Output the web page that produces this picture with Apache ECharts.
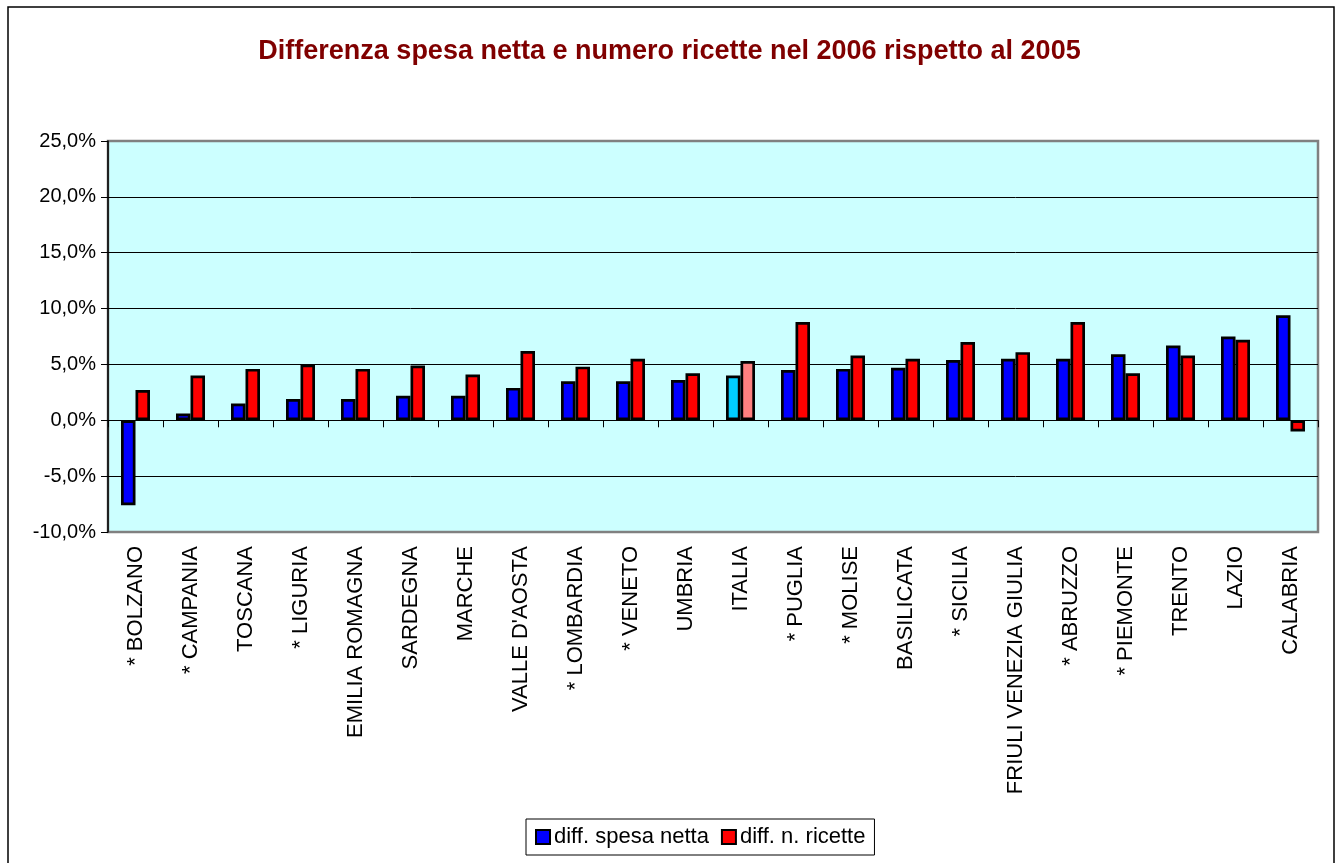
<!DOCTYPE html>
<html>
<head>
<meta charset="utf-8">
<script src="https://cdn.jsdelivr.net/npm/echarts@6/dist/echarts.min.js"></script>
<style>
html,body{margin:0;padding:0;background:#fff;}
#c{width:1339px;height:863px;}
</style>
</head>
<body>
<div id="c"></div>
<script>
const categories = ['* BOLZANO','* CAMPANIA','TOSCANA','* LIGURIA','EMILIA ROMAGNA','SARDEGNA','MARCHE',"VALLE D'AOSTA",'* LOMBARDIA','* VENETO','UMBRIA','ITALIA','* PUGLIA','* MOLISE','BASILICATA','* SICILIA','FRIULI VENEZIA GIULIA','* ABRUZZO','* PIEMONTE','TRENTO','LAZIO','CALABRIA'];
const spesaNetta = [-7.6,0.6,1.5,1.9,1.9,2.2,2.2,2.9,3.5,3.5,3.6,4.0,4.5,4.6,4.7,5.4,5.5,5.5,5.9,6.7,7.5,9.4];
const nRicette = [2.7,4.0,4.6,5.0,4.6,4.9,4.1,6.2,4.8,5.5,4.2,5.3,8.8,5.8,5.5,7.0,6.1,8.8,4.2,5.8,7.2,-1.0];
const seriesNames = ['diff. spesa netta','diff. n. ricette'];
const highlightCategory = 'ITALIA';

const FONT = '"Liberation Sans", Arial, sans-serif';
function mk(values, hiColor){
  return values.map((v,i)=> categories[i]===highlightCategory
    ? {value:v, itemStyle:{color:hiColor}} : v);
}
const chart = echarts.init(document.getElementById('c'));
chart.setOption({
  animation:false,
  backgroundColor:'#fff',
  textStyle:{fontFamily:FONT},
  title:{
    text:'Differenza spesa netta e numero ricette nel 2006 rispetto al 2005',
    left:'center', top:33,
    textStyle:{color:'#800000', fontSize:27, fontWeight:'bold', fontFamily:FONT}
  },
  legend:{
    left:526, top:819,
    icon:'rect', itemWidth:14, itemHeight:14, itemGap:12,
    borderColor:'#000', borderWidth:1, padding:[7,9],
    itemStyle:{borderColor:'#000', borderWidth:2},
    textStyle:{color:'#000', fontSize:22, fontFamily:FONT, padding:[0,0,0,-1]},
    data:seriesNames
  },
  graphic:[{
    type:'rect', shape:{x:8,y:7,width:1326,height:880},
    style:{fill:'none', stroke:'#000', lineWidth:1.5}, silent:true, z:-1
  }],
  grid:{
    left:108, right:21, top:141, bottom:331,
    show:true, backgroundColor:'#CCFFFF', borderColor:'#808080', borderWidth:2.5
  },
  xAxis:[{
    type:'category', data:categories, position:'bottom',
    axisLine:{show:false, onZero:false},
    axisTick:{show:false},
    axisLabel:{rotate:90, interval:0, margin:14, color:'#000', fontSize:22, fontFamily:FONT},
    splitLine:{show:false}
  },{
    type:'category', data:categories, position:'bottom',
    axisLine:{show:true, onZero:true, lineStyle:{color:'#000', width:1}},
    axisTick:{show:true, interval:0, length:7, lineStyle:{color:'#000', width:1}},
    axisLabel:{show:false, interval:0},
    splitLine:{show:false}
  }],
  yAxis:{
    type:'value', min:-10, max:25, interval:5,
    axisLine:{show:true, lineStyle:{color:'#000', width:1.5}},
    axisTick:{show:true, length:7, lineStyle:{color:'#000'}},
    axisLabel:{margin:12, color:'#000', fontSize:20, fontFamily:FONT,
      formatter:v=>v.toFixed(1).replace('.',',')+'%'},
    splitLine:{show:true, lineStyle:{color:['transparent','#000','#000','#000','#000','#000','#000','transparent'], width:1}}
  },
  series:[{
    name:seriesNames[0], type:'bar', xAxisIndex:0,
    data:mk(spesaNetta,'#00CCFF'),
    barWidth:14.5, barGap:'0%',
    itemStyle:{color:'#0000FF', borderColor:'#000', borderWidth:2.7}
  },{
    name:seriesNames[1], type:'bar', xAxisIndex:0,
    data:mk(nRicette,'#FF8080'),
    barWidth:14.5, barGap:'0%',
    itemStyle:{color:'#FF0000', borderColor:'#000', borderWidth:2.7}
  }]
});
</script>
</body>
</html>
